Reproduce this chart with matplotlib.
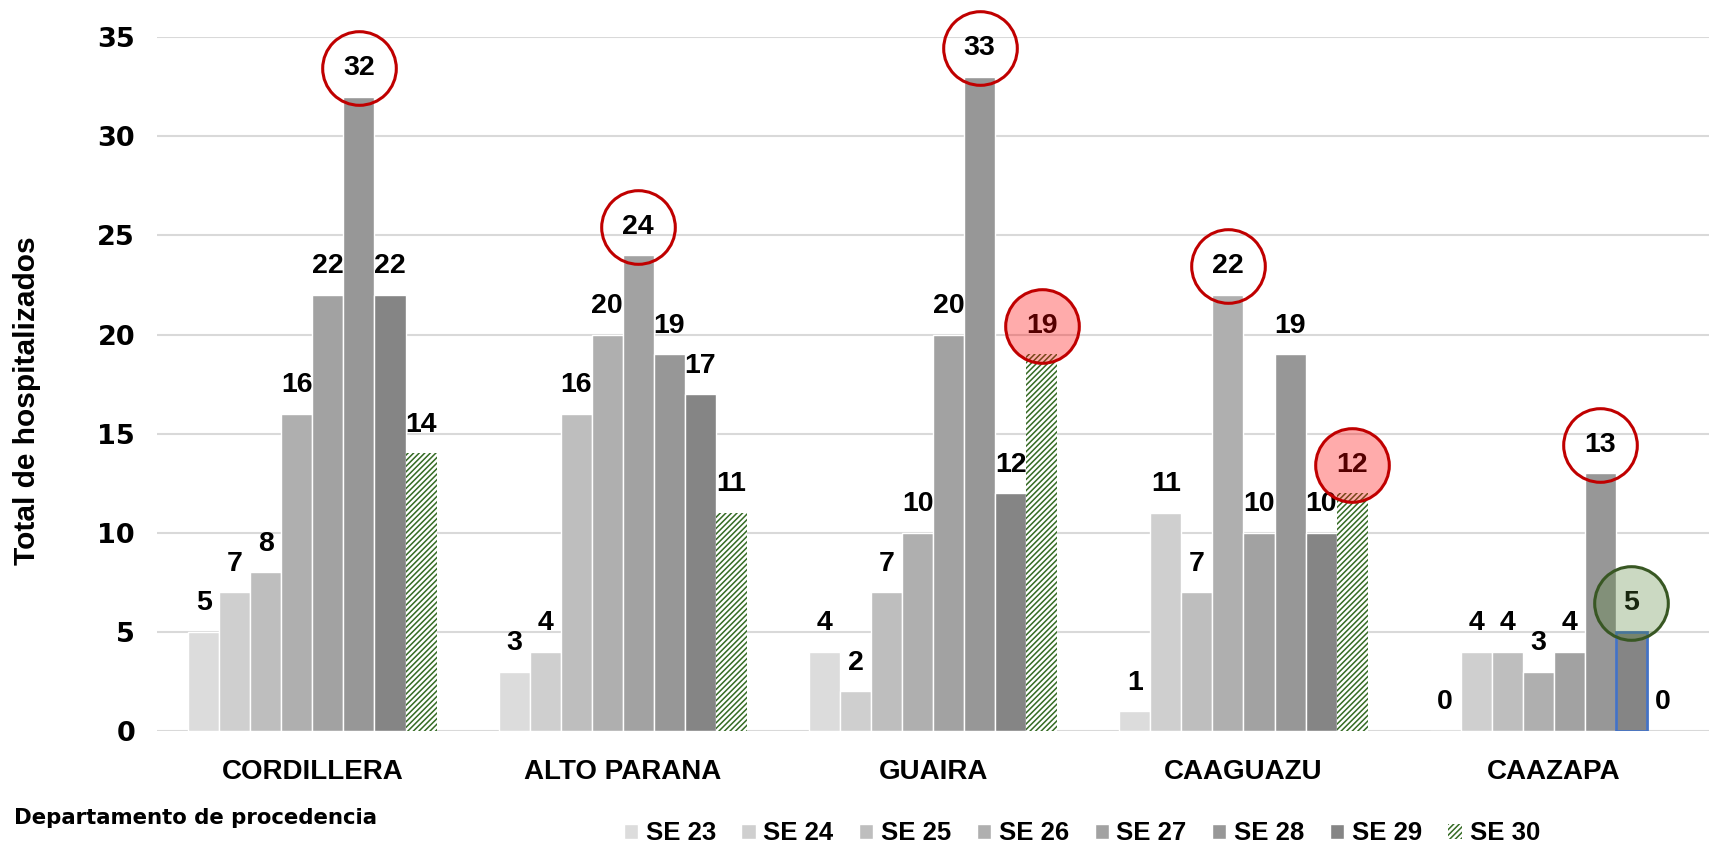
import matplotlib

matplotlib.use("Agg")
import matplotlib.pyplot as plt
import numpy as np
from matplotlib.transforms import offset_copy

# Data
departments = ["CORDILLERA", "ALTO PARANA", "GUAIRA", "CAAGUAZU", "CAAZAPA"]
weeks = ["SE 23", "SE 24", "SE 25", "SE 26", "SE 27", "SE 28", "SE 29", "SE 30"]
se23 = [5, 3, 4, 1, 0]
se24 = [7, 4, 2, 11, 4]
se25 = [8, 16, 7, 7, 4]
se26 = [16, 20, 10, 22, 3]
se27 = [22, 24, 20, 10, 4]
se28 = [32, 19, 33, 19, 13]
se29 = [22, 17, 12, 10, 5]
se30 = [14, 11, 19, 12, 0]
series = [se23, se24, se25, se26, se27, se28, se29, se30]

# highlighted labels: (department index, week index)
red_rings = [(0, 5), (1, 4), (2, 5), (3, 3), (4, 5)]
red_filled = [(2, 7), (3, 7)]
green_filled = [(4, 6)]

grays = ["#dcdcdc", "#cfcfcf", "#bebebe", "#afafaf", "#a2a2a2", "#979797", "#858585"]
hatch_green = "#356b24"

plt.rcParams["hatch.linewidth"] = 1.1

fig = plt.figure(figsize=(17.09, 8.47), dpi=100)
ax = fig.add_axes([0.092, 0.137, 0.908, 0.819])

x = np.arange(len(departments))
bw = 0.1
LABEL_OFF = 20.5  # points above bar top
for i, vals in enumerate(series):
    pos = x + (i - 3.5) * bw
    if i < 7:
        ax.bar(pos, vals, bw, color=grays[i], edgecolor="white",
               linewidth=1, label=weeks[i], zorder=2)
    else:
        ax.bar(pos, vals, bw, color="white", edgecolor=hatch_green,
               hatch="//////", linewidth=0, label=weeks[i], zorder=2)
    for xp, v in zip(pos, vals):
        ax.annotate(str(v), (xp, v), xytext=(0, LABEL_OFF), textcoords="offset points",
                    ha="center", va="center", fontsize=20.5, fontweight="bold",
                    family="Liberation Sans", zorder=4, annotation_clip=False)

# blue outline on the CAAZAPA SE 29 bar
ax.bar(x[4] + 2.5 * bw, se29[4], bw, color="none", edgecolor="#4472c4",
       linewidth=2, zorder=3)

# circles around highlighted labels
tr = offset_copy(ax.transData, fig=fig, x=0, y=LABEL_OFF, units="points")


def ring(di, wi, face, edge, alpha):
    xp = x[di] + (wi - 3.5) * bw
    v = series[wi][di]
    if face != "none":
        ax.plot([xp], [v], marker="o", markersize=53, markerfacecolor=face,
                markeredgecolor="none", alpha=alpha, transform=tr,
                clip_on=False, zorder=5)
    ax.plot([xp], [v], marker="o", markersize=53, markerfacecolor="none",
            markeredgecolor=edge, markeredgewidth=2.2, transform=tr,
            clip_on=False, zorder=6)


for di, wi in red_rings:
    ring(di, wi, "none", "#c00000", 1)
for di, wi in red_filled:
    ring(di, wi, "#ff0000", "#c00000", 0.33)
for di, wi in green_filled:
    ring(di, wi, "#548235", "#385723", 0.3)

ax.set_xlim(-0.5, 4.5)
ax.set_ylim(0, 35)
ax.set_yticks(range(0, 36, 5))
ax.set_xticks(x)
ax.set_xticklabels(departments, fontsize=20, fontweight="bold", family="Liberation Sans")
for lab in ax.get_yticklabels():
    lab.set_fontsize(19.5)
    lab.set_fontweight("bold")
    lab.set_family("DejaVu Sans")
ax.tick_params(axis="y", length=0, pad=16)
ax.tick_params(axis="x", length=0, pad=20)
ax.grid(axis="y", color="#d9d9d9", linewidth=1.5, zorder=0)
ax.set_axisbelow(True)
for s in ax.spines.values():
    s.set_visible(False)

fig.text(0.016, 0.527, "Total de hospitalizados", rotation=90, ha="center",
         va="center", fontsize=21.5, fontweight="bold", family="Liberation Sans")
fig.text(0.008, 0.034, "Departamento de procedencia", ha="left", va="center",
         fontsize=15.3, fontweight="bold", family="DejaVu Sans")

fig.legend(loc="center", bbox_to_anchor=(0.633, 0.016), ncol=8,
           frameon=False, handlelength=0.55, handleheight=0.55,
           handletextpad=0.3, columnspacing=1.0,
           prop={"family": "Liberation Sans", "weight": "bold", "size": 18.5})

fig.savefig("out.png", dpi=100)
